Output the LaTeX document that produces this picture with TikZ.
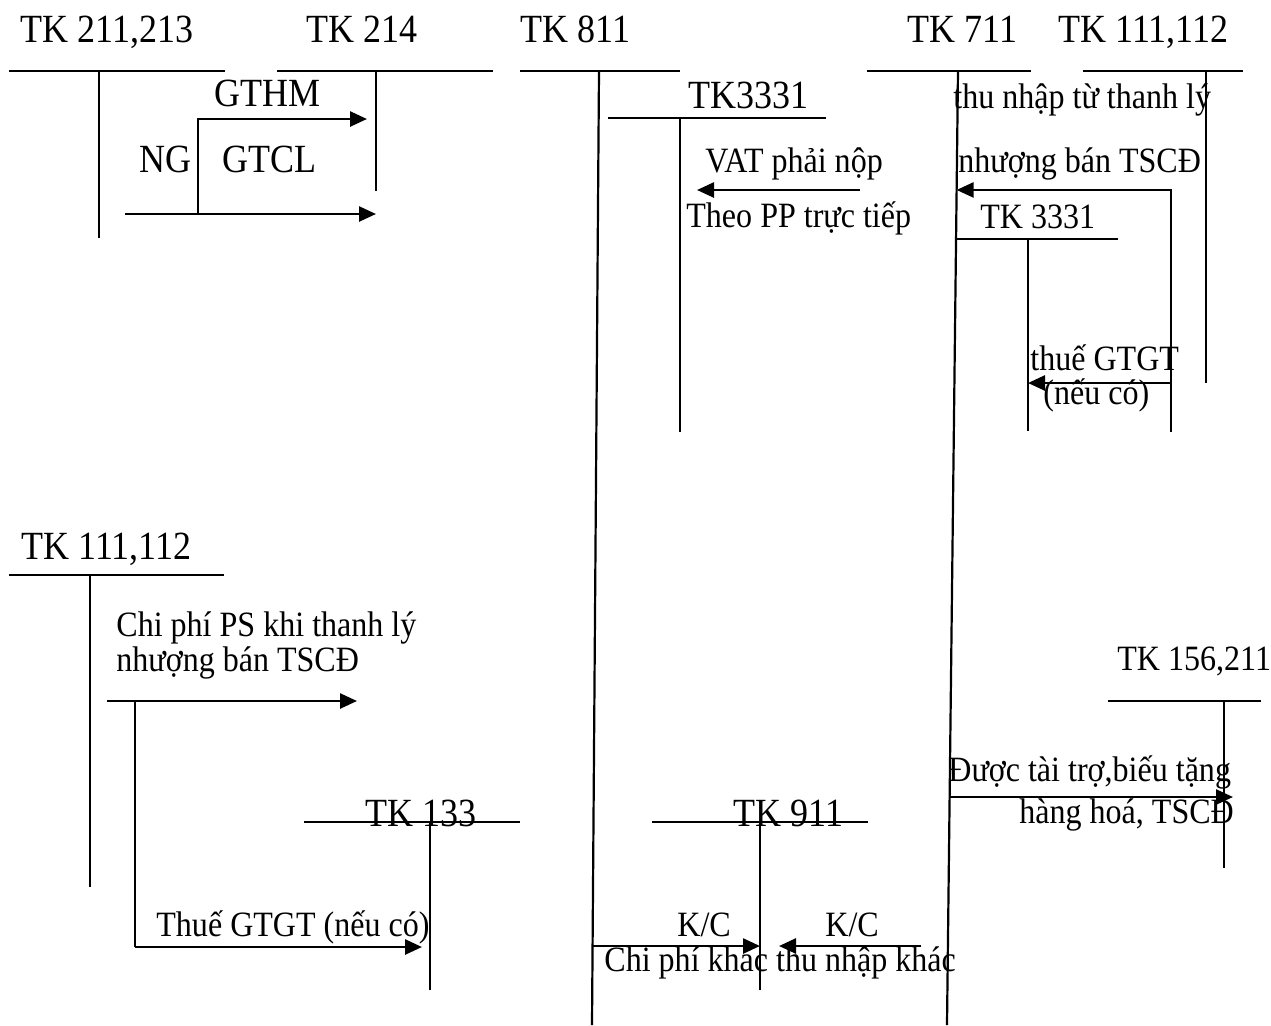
\documentclass[tikz,border=0pt]{standalone}
\usepackage{fontspec}
\setmainfont{Liberation Serif}[FakeStretch=0.9]
\usetikzlibrary{arrows.meta,calc}
\tikzset{
  acct/.style={draw=black,line width=1.1pt},
  hdr/.style={anchor=base west,inner sep=0pt,font=\fontsize{20}{22}\selectfont},
  lbl/.style={anchor=base west,inner sep=0pt,font=\fontsize{17.8}{20}\selectfont},
  arr/.style={-{Triangle[length=8.5pt,width=7.5pt]},draw=black,line width=1.3pt},
  link/.style={draw=black,line width=1.3pt}
}

\begin{document}
\begin{tikzpicture}[x=0.5pt,y=-0.5pt]
\useasboundingbox (0,0) rectangle (1271,1025);
% account titles, top row
\node[hdr] (t211) at (20,42) {TK 211,213};
\node[hdr] (t214) at (306,42) {TK 214};
\node[hdr] (t811) at (520,42) {TK 811};
\node[hdr] (t711) at (907,42) {TK 711};
\node[hdr] (t111a) at (1058,42) {TK 111,112};
\node[hdr] (t3331a) at (688,108) {TK3331};
\node[lbl] (t3331b) at (980,228) {TK 3331};
% account titles, bottom row
\node[hdr] (t111b) at (21,559) {TK 111,112};
\node[lbl] (t156) at (1117,670) {TK 156,211};
\node[hdr] (t133) at (365,826) {TK 133};
\node[hdr] (t911) at (733,826) {TK 911};

% T-accounts
\coordinate (a211l) at (9,71);    \coordinate (a211r) at (225,71);
\coordinate (a211t) at (99,71);   \coordinate (a211b) at (99,238);
\coordinate (a214l) at (277,71);  \coordinate (a214r) at (493,71);
\coordinate (a214t) at (376,71);  \coordinate (a214b) at (376,191);
\coordinate (a811l) at (520,71);  \coordinate (a811r) at (680,71);
\coordinate (a811t) at (599,71);  \coordinate (a811b) at (592,1025);
\coordinate (a3331l) at (608,118); \coordinate (a3331r) at (826,118);
\coordinate (a3331t) at (680,118); \coordinate (a3331b) at (680,432);
\coordinate (a711l) at (867,71);  \coordinate (a711r) at (1031,71);
\coordinate (a711t) at (958,71);  \coordinate (a711b) at (947,1025);
\coordinate (a111l) at (1083,71); \coordinate (a111r) at (1243,71);
\coordinate (a111t) at (1206,71); \coordinate (a111b) at (1206,383);
\coordinate (b3331l) at (955,239); \coordinate (b3331r) at (1118,239);
\coordinate (b3331t) at (1028,239); \coordinate (b3331b) at (1028,431);
\coordinate (c111l) at (9,575);   \coordinate (c111r) at (224,575);
\coordinate (c111t) at (90,575);  \coordinate (c111b) at (90,887);
\coordinate (c133l) at (304,822); \coordinate (c133r) at (520,822);
\coordinate (c133t) at (430,822); \coordinate (c133b) at (430,990);
\coordinate (c911l) at (652,822); \coordinate (c911r) at (868,822);
\coordinate (c911t) at (760,822); \coordinate (c911b) at (760,990);
\coordinate (c156l) at (1108,701); \coordinate (c156r) at (1261,701);
\coordinate (c156t) at (1224,701); \coordinate (c156b) at (1224,868);
\foreach \a in {a211,a214,a811,a3331,a711,a111,b3331,c111,c133,c911,c156}{
  \draw[acct] (\a l) -- (\a r);
  \draw[acct] (\a t) -- (\a b);
}

% TK 211,213 -> TK 214
\node[hdr] (gthm) at (214,106) {GTHM};
\node[hdr] (ng) at (139,172) {NG};
\node[hdr] (gtcl) at (222,172) {GTCL};
\coordinate (ngs) at (125,214);
\coordinate (ngj) at (198,214);
\coordinate (gthme) at (367,119);
\draw[arr] (ngs) -- (a214t |- ngs);
\draw[arr] (ngj) |- (gthme);

% VAT phai nop
\node[lbl] (vat) at (705,172) {VAT phải nộp};
\node[lbl] (vatpp) at (686,227) {Theo PP trực tiếp};
\coordinate (vats) at (860,190);
\coordinate (vate) at (697,190);
\draw[arr] (vats) -- (vate);

% thu nhap thanh ly
\node[lbl] (thu1) at (953,108) {thu nhập từ thanh lý};
\node[lbl] (thu2) at (958,172) {nhượng bán TSCĐ};
\node[lbl] (gtgt1) at (1030,370) {thuế GTGT};
\node[lbl] (gtgt2) at (1043,404) {(nếu có)};
\coordinate (tns) at (1171,432);
\coordinate (tnj) at (1171,383);
\coordinate (p711a) at ($(a711t)!0.1247!(a711b)$);
\draw[arr] (tns) |- (p711a);
\draw[arr] (tnj) -- (b3331t |- tnj);

% chi phi thanh ly
\node[lbl] (cp1) at (116,636) {Chi phí PS khi thanh lý};
\node[lbl] (cp2) at (116,671) {nhượng bán TSCĐ};
\node[lbl] (cp3) at (156,936) {Thuế GTGT (nếu có)};
\coordinate (cps) at (107,701);
\coordinate (cpe) at (357,701);
\coordinate (cpj) at (135,701);
\coordinate (cpk) at (135,947);
\draw[arr] (cps) -- (cpe);
\draw[link] (cpj) -- (cpk);
\draw[arr] (cpk) -- ($(c133t |- cpk)+(-8,0)$);

% ket chuyen
\node[lbl] (kc1) at (677,936) {K/C};
\node[lbl] (kc2) at (825,936) {K/C};
\node[lbl] (kc3) at (604,971) {Chi phí khác thu nhập khác};
\coordinate (p811k) at ($(a811t)!0.9172!(a811b)$);
\coordinate (kcs) at (921,946);
\draw[arr] (p811k) -- (c911t |- p811k);
\draw[arr] (kcs) -- ($(c911t |- kcs)+(19,0)$);

% tai tro, bieu tang
\node[lbl] (tt1) at (948,781) {Được tài trợ,biếu tặng};
\node[lbl] (tt2) at (1019,823) {hàng hoá, TSCĐ};
\coordinate (p711d) at ($(a711t)!0.761!(a711b)$);
\draw[arr] (p711d) -- ($(c156t |- p711d)+(9,0)$);

\end{tikzpicture}
\end{document}
